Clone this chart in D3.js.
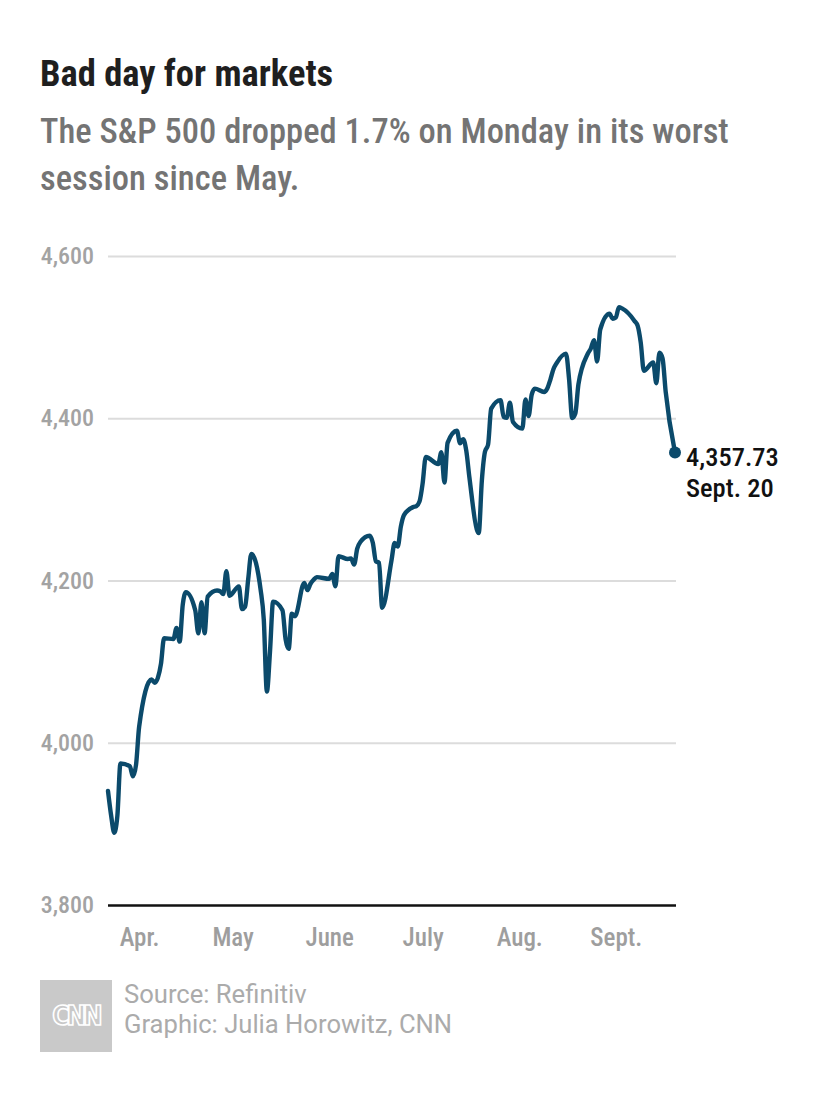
<!DOCTYPE html>
<html>
<head>
<meta charset="utf-8">
<script src="https://cdn.jsdelivr.net/npm/d3@7"></script>
<style>
  html, body { margin: 0; padding: 0; background: #fff; }
  svg { display: block; }
  .cond { font-family: "Roboto Condensed", "Liberation Sans Narrow", "DejaVu Sans Condensed", sans-serif; }
</style>
</head>
<body>
<svg id="chart" width="830" height="1102"></svg>
<script>
const titleText = "Bad day for markets";
const subtitleLines = ["The S&P 500 dropped 1.7% on Monday in its worst", "session since May."];
const sourceLines = ["Source: Refinitiv", "Graphic: Julia Horowitz, CNN"];

const dates = [
  "2021-03-22","2021-03-23","2021-03-24","2021-03-25","2021-03-26","2021-03-29","2021-03-30","2021-03-31",
  "2021-04-01","2021-04-05","2021-04-06","2021-04-07","2021-04-08","2021-04-09","2021-04-12","2021-04-13",
  "2021-04-14","2021-04-15","2021-04-16","2021-04-19","2021-04-20","2021-04-21","2021-04-22","2021-04-23",
  "2021-04-26","2021-04-27","2021-04-28","2021-04-29","2021-04-30","2021-05-03","2021-05-04","2021-05-05",
  "2021-05-06","2021-05-07","2021-05-10","2021-05-11","2021-05-12","2021-05-13","2021-05-14","2021-05-17",
  "2021-05-18","2021-05-19","2021-05-20","2021-05-21","2021-05-24","2021-05-25","2021-05-26","2021-05-27",
  "2021-05-28","2021-06-01","2021-06-02","2021-06-03","2021-06-04","2021-06-07","2021-06-08","2021-06-09",
  "2021-06-10","2021-06-11","2021-06-14","2021-06-15","2021-06-16","2021-06-17","2021-06-18","2021-06-21",
  "2021-06-22","2021-06-23","2021-06-24","2021-06-25","2021-06-28","2021-06-29","2021-06-30","2021-07-01",
  "2021-07-02","2021-07-06","2021-07-07","2021-07-08","2021-07-09","2021-07-12","2021-07-13","2021-07-14",
  "2021-07-15","2021-07-16","2021-07-19","2021-07-20","2021-07-21","2021-07-22","2021-07-23","2021-07-26",
  "2021-07-27","2021-07-28","2021-07-29","2021-07-30","2021-08-02","2021-08-03","2021-08-04","2021-08-05",
  "2021-08-06","2021-08-09","2021-08-10","2021-08-11","2021-08-12","2021-08-13","2021-08-16","2021-08-17",
  "2021-08-18","2021-08-19","2021-08-20","2021-08-23","2021-08-24","2021-08-25","2021-08-26","2021-08-27",
  "2021-08-30","2021-08-31","2021-09-01","2021-09-02","2021-09-03","2021-09-07","2021-09-08","2021-09-09",
  "2021-09-10","2021-09-13","2021-09-14","2021-09-15","2021-09-16","2021-09-17","2021-09-20"
];
const values = [
  3940.6,3910.5,3889.1,3909.5,3974.5,3971.1,3958.6,3972.9,
  4019.9,4077.9,4073.9,4079.9,4097.2,4128.8,4127.9,4141.6,
  4124.7,4170.4,4185.5,4163.3,4134.9,4173.4,4134.9,4180.2,
  4187.6,4186.7,4183.2,4211.5,4181.2,4192.7,4164.7,4167.6,
  4201.6,4232.6,4188.4,4152.1,4063.0,4112.5,4173.9,4163.3,
  4127.8,4115.7,4159.1,4155.9,4197.1,4188.1,4196.0,4200.9,
  4204.1,4202.0,4208.1,4192.9,4229.9,4226.5,4227.3,4219.6,
  4239.2,4247.4,4255.2,4246.6,4223.7,4221.9,4166.5,4224.8,
  4246.4,4241.8,4266.5,4280.7,4290.6,4291.8,4297.5,4319.9,
  4352.3,4343.5,4358.1,4320.8,4369.6,4384.6,4369.2,4374.3,
  4360.0,4327.2,4258.5,4323.1,4358.7,4367.5,4411.8,4422.3,
  4401.5,4400.6,4419.2,4395.3,4387.2,4423.2,4402.7,4429.1,
  4436.5,4432.4,4436.8,4447.7,4460.8,4468.0,4479.7,4448.1,
  4400.3,4405.8,4441.7,4479.5,4486.2,4496.2,4470.0,4509.4,
  4528.8,4522.7,4524.1,4536.9,4535.4,4520.0,4514.1,4493.3,
  4458.6,4468.7,4443.1,4480.7,4473.8,4433.0,4357.73
];
const yTicks = [3800, 4000, 4200, 4400, 4600];
const monthTicks = ["2021-04-01","2021-05-01","2021-06-01","2021-07-01","2021-08-01","2021-09-01"];
const monthLabels = ["Apr.", "May", "June", "July", "Aug.", "Sept."];
const endLabel = ["4,357.73", "Sept. 20"];

const parse = d3.timeParse("%Y-%m-%d");
const data = dates.map((d, i) => ({ date: parse(d), value: values[i] }));

const svg = d3.select("#chart");
svg.append("rect").attr("width", 830).attr("height", 1102).attr("fill", "#fff");

const x = d3.scaleTime().domain([parse(dates[0]), parse(dates[dates.length - 1])]).range([108, 675]);
const y = d3.scaleLinear().domain([3800, 4600]).range([905, 256]);
const gridRight = 676;

// Title & subtitle
svg.append("text").attr("class", "cond")
  .attr("x", 40).attr("y", 86)
  .attr("font-size", 36.5).attr("font-weight", 700).attr("fill", "#1f1f1f")
  .text(titleText);

svg.selectAll("text.sub").data(subtitleLines).join("text")
  .attr("class", "cond sub")
  .attr("x", 40).attr("y", (d, i) => 143 + i * 47)
  .attr("font-size", 34.5).attr("font-weight", 500).attr("fill", "#747474")
  .text(d => d);

// Y axis with gridlines
const yAxis = d3.axisLeft(y).tickValues(yTicks).tickFormat(d3.format(",")).tickSize(-(gridRight - 108)).tickPadding(14);
const yg = svg.append("g").attr("transform", "translate(108,0)").call(yAxis);
yg.select(".domain").remove();
yg.selectAll(".tick line").attr("stroke", "#dcdcdc").attr("stroke-width", 2);
yg.selectAll(".tick text").attr("class", "cond").attr("font-size", 24).attr("fill", "#a3a3a3").attr("font-weight", 500);
yg.selectAll(".tick").filter(d => d === 3800).select("line").attr("stroke", "#111").attr("stroke-width", 2.5);

// X axis
const xAxis = d3.axisBottom(x).tickValues(monthTicks.map(parse)).tickFormat((d, i) => monthLabels[i]).tickSize(0).tickPadding(23);
const xg = svg.append("g").attr("transform", "translate(0,905)").call(xAxis);
xg.select(".domain").remove();
xg.selectAll(".tick text").attr("class", "cond").attr("font-size", 25).attr("fill", "#9e9e9e").attr("font-weight", 500);

// Line
const line = d3.line().x(d => x(d.date)).y(d => y(d.value)).curve(d3.curveMonotoneX);
svg.append("path").datum(data)
  .attr("d", line).attr("fill", "none")
  .attr("stroke", "#0b4a6b").attr("stroke-width", 4.4)
  .attr("stroke-linejoin", "round").attr("stroke-linecap", "round");

// End point + label
const last = data[data.length - 1];
svg.append("circle").attr("cx", x(last.date)).attr("cy", y(last.value)).attr("r", 6).attr("fill", "#0b4a6b");
svg.selectAll("text.end").data(endLabel).join("text")
  .attr("class", "cond end")
  .attr("x", x(last.date) + 11).attr("y", (d, i) => y(last.value) + 13 + i * 31)
  .attr("font-size", 26.5).attr("font-weight", 500).attr("fill", "#111")
  .text(d => d);

// Footer logo
svg.append("rect").attr("x", 40).attr("y", 980).attr("width", 72).attr("height", 72).attr("fill", "#c9c9c9");
svg.append("text").attr("x", 76).attr("y", 1025).attr("text-anchor", "middle")
  .attr("font-family", "'DejaVu Sans Condensed', sans-serif").attr("font-size", 26).attr("font-weight", 700)
  .attr("fill", "none").attr("stroke", "#fff").attr("stroke-width", 1.6).attr("letter-spacing", -3)
  .text("CNN");

svg.selectAll("text.src").data(sourceLines).join("text")
  .attr("class", "src")
  .attr("x", 124).attr("y", (d, i) => 1003 + i * 30)
  .attr("font-family", "Roboto, 'Liberation Sans', sans-serif").attr("font-size", 25.6)
  .attr("fill", "#ababab")
  .text(d => d);
</script>
</body>
</html>
